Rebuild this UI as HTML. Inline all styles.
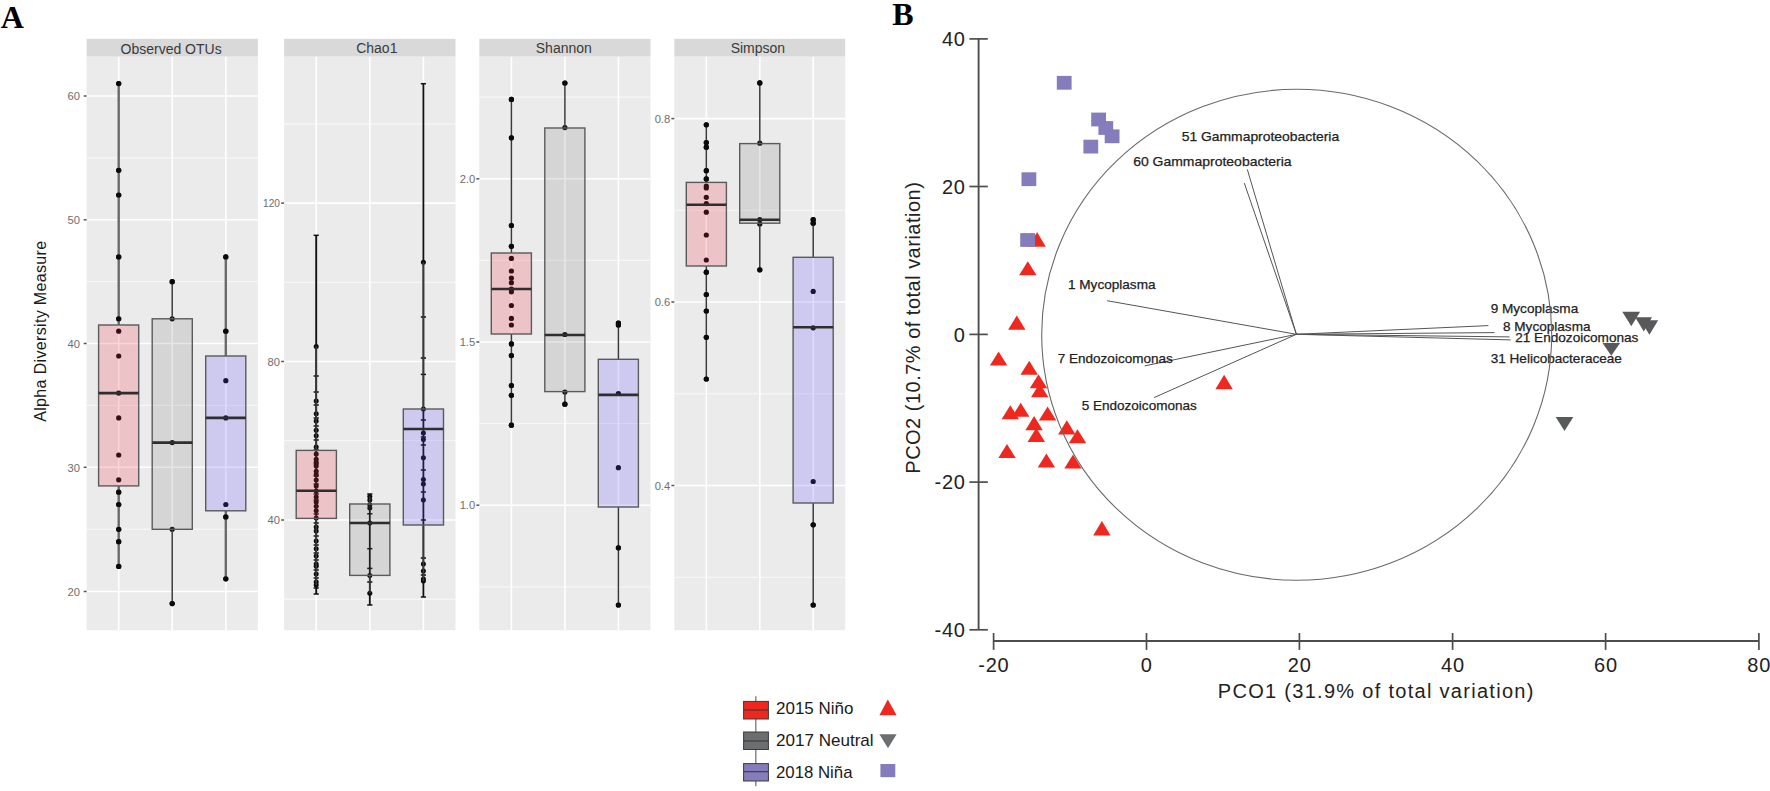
<!DOCTYPE html>
<html><head><meta charset="utf-8"><title>Figure</title>
<style>
html,body{margin:0;padding:0;background:#fff;}
svg{display:block}
text{font-family:"Liberation Sans",sans-serif;}
.ser{font-family:"Liberation Serif",serif;font-weight:bold;}
.tk{font-size:11.2px;fill:#6e6e6e;}
.st{font-size:14px;fill:#3a3a3a;}
.vl{font-size:13px;fill:#222;stroke:#222;stroke-width:0.25px;}
.ax{font-size:20px;fill:#222;}
.lg{font-size:17px;fill:#1a1a1a;}
</style></head><body>
<svg width="1770" height="791" viewBox="0 0 1770 791">
<rect width="1770" height="791" fill="#fff"/>

<text class="ser" x="0.8" y="28.2" font-size="32">A</text>
<text class="ser" x="892.3" y="25.2" font-size="32">B</text>
<rect x="86.6" y="38.8" width="171.3" height="17.9" fill="#d9d9d9"/>
<rect x="86.6" y="56.7" width="171.3" height="573.5" fill="#ebebeb"/>
<text class="st" x="171.1" y="53.7" text-anchor="middle">Observed OTUs</text>
<line x1="86.6" x2="257.9" y1="157.9" y2="157.9" stroke="#f9f9f9" stroke-width="1"/>
<line x1="86.6" x2="257.9" y1="281.6" y2="281.6" stroke="#f9f9f9" stroke-width="1"/>
<line x1="86.6" x2="257.9" y1="405.4" y2="405.4" stroke="#f9f9f9" stroke-width="1"/>
<line x1="86.6" x2="257.9" y1="529.2" y2="529.2" stroke="#f9f9f9" stroke-width="1"/>
<line x1="86.6" x2="257.9" y1="96" y2="96" stroke="#fff" stroke-width="1.6"/>
<line x1="83.69999999999999" x2="86.6" y1="96" y2="96" stroke="#555" stroke-width="1.5"/>
<text class="tk" x="80.0" y="100.2" text-anchor="end">60</text>
<line x1="86.6" x2="257.9" y1="219.8" y2="219.8" stroke="#fff" stroke-width="1.6"/>
<line x1="83.69999999999999" x2="86.6" y1="219.8" y2="219.8" stroke="#555" stroke-width="1.5"/>
<text class="tk" x="80.0" y="224.0" text-anchor="end">50</text>
<line x1="86.6" x2="257.9" y1="343.5" y2="343.5" stroke="#fff" stroke-width="1.6"/>
<line x1="83.69999999999999" x2="86.6" y1="343.5" y2="343.5" stroke="#555" stroke-width="1.5"/>
<text class="tk" x="80.0" y="347.7" text-anchor="end">40</text>
<line x1="86.6" x2="257.9" y1="467.3" y2="467.3" stroke="#fff" stroke-width="1.6"/>
<line x1="83.69999999999999" x2="86.6" y1="467.3" y2="467.3" stroke="#555" stroke-width="1.5"/>
<text class="tk" x="80.0" y="471.5" text-anchor="end">30</text>
<line x1="86.6" x2="257.9" y1="591.5" y2="591.5" stroke="#fff" stroke-width="1.6"/>
<line x1="83.69999999999999" x2="86.6" y1="591.5" y2="591.5" stroke="#555" stroke-width="1.5"/>
<text class="tk" x="80.0" y="595.7" text-anchor="end">20</text>
<line x1="118.7" x2="118.7" y1="56.7" y2="630.2" stroke="#fff" stroke-width="1.6"/>
<line x1="172.2" x2="172.2" y1="56.7" y2="630.2" stroke="#fff" stroke-width="1.6"/>
<line x1="225.8" x2="225.8" y1="56.7" y2="630.2" stroke="#fff" stroke-width="1.6"/>
<circle cx="118.7" cy="83.6" r="2.6" fill="#0a0a0a"/>
<circle cx="118.7" cy="170.3" r="2.6" fill="#0a0a0a"/>
<circle cx="118.7" cy="195.0" r="2.6" fill="#0a0a0a"/>
<circle cx="118.7" cy="256.9" r="2.6" fill="#0a0a0a"/>
<circle cx="118.7" cy="318.8" r="2.6" fill="#0a0a0a"/>
<circle cx="118.7" cy="331.2" r="2.6" fill="#0a0a0a"/>
<circle cx="118.7" cy="356.0" r="2.6" fill="#0a0a0a"/>
<circle cx="118.7" cy="393.1" r="2.6" fill="#0a0a0a"/>
<circle cx="118.7" cy="417.9" r="2.6" fill="#0a0a0a"/>
<circle cx="118.7" cy="455.0" r="2.6" fill="#0a0a0a"/>
<circle cx="118.7" cy="479.8" r="2.6" fill="#0a0a0a"/>
<circle cx="118.7" cy="492.2" r="2.6" fill="#0a0a0a"/>
<circle cx="118.7" cy="504.5" r="2.6" fill="#0a0a0a"/>
<circle cx="118.7" cy="529.3" r="2.6" fill="#0a0a0a"/>
<circle cx="118.7" cy="541.7" r="2.6" fill="#0a0a0a"/>
<circle cx="118.7" cy="566.4" r="2.6" fill="#0a0a0a"/>
<line x1="118.7" x2="118.7" y1="83.6" y2="325.0" stroke="#6a6a6a" stroke-width="2.4"/>
<line x1="118.7" x2="118.7" y1="486.0" y2="566.4" stroke="#6a6a6a" stroke-width="2.4"/>
<rect x="98.6" y="325.0" width="40.1" height="160.9" fill="rgba(240,40,60,0.2)" stroke="#5a5a5a" stroke-width="1.4"/>
<line x1="98.6" x2="138.8" y1="393.1" y2="393.1" stroke="#2e2e2e" stroke-width="2.6"/>
<circle cx="118.7" cy="83.6" r="2.6" fill="#0a0a0a"/>
<circle cx="118.7" cy="170.3" r="2.6" fill="#0a0a0a"/>
<circle cx="118.7" cy="195.0" r="2.6" fill="#0a0a0a"/>
<circle cx="118.7" cy="256.9" r="2.6" fill="#0a0a0a"/>
<circle cx="118.7" cy="318.8" r="2.6" fill="#0a0a0a"/>
<circle cx="118.7" cy="492.2" r="2.6" fill="#0a0a0a"/>
<circle cx="118.7" cy="504.5" r="2.6" fill="#0a0a0a"/>
<circle cx="118.7" cy="529.3" r="2.6" fill="#0a0a0a"/>
<circle cx="118.7" cy="541.7" r="2.6" fill="#0a0a0a"/>
<circle cx="118.7" cy="566.4" r="2.6" fill="#0a0a0a"/>
<circle cx="172.2" cy="281.7" r="2.6" fill="#0a0a0a"/>
<circle cx="172.2" cy="318.8" r="2.6" fill="#0a0a0a"/>
<circle cx="172.2" cy="442.6" r="2.6" fill="#0a0a0a"/>
<circle cx="172.2" cy="529.3" r="2.6" fill="#0a0a0a"/>
<circle cx="172.2" cy="603.6" r="2.6" fill="#0a0a0a"/>
<line x1="172.2" x2="172.2" y1="281.7" y2="318.8" stroke="#3a3a3a" stroke-width="1.5"/>
<line x1="172.2" x2="172.2" y1="529.3" y2="603.6" stroke="#3a3a3a" stroke-width="1.5"/>
<rect x="152.2" y="318.8" width="40.1" height="210.5" fill="rgba(100,100,100,0.16)" stroke="#5a5a5a" stroke-width="1.4"/>
<line x1="152.2" x2="192.3" y1="442.6" y2="442.6" stroke="#2e2e2e" stroke-width="2.6"/>
<circle cx="172.2" cy="281.7" r="2.6" fill="#0a0a0a"/>
<circle cx="172.2" cy="603.6" r="2.6" fill="#0a0a0a"/>
<circle cx="225.8" cy="256.9" r="2.6" fill="#0a0a0a"/>
<circle cx="225.8" cy="331.2" r="2.6" fill="#0a0a0a"/>
<circle cx="225.8" cy="380.7" r="2.6" fill="#0a0a0a"/>
<circle cx="225.8" cy="417.9" r="2.6" fill="#0a0a0a"/>
<circle cx="225.8" cy="504.5" r="2.6" fill="#0a0a0a"/>
<circle cx="225.8" cy="516.9" r="2.6" fill="#0a0a0a"/>
<circle cx="225.8" cy="578.8" r="2.6" fill="#0a0a0a"/>
<line x1="225.8" x2="225.8" y1="256.9" y2="356.0" stroke="#6a6a6a" stroke-width="2.4"/>
<line x1="225.8" x2="225.8" y1="510.7" y2="578.8" stroke="#6a6a6a" stroke-width="2.4"/>
<rect x="205.7" y="356.0" width="40.1" height="154.8" fill="rgba(90,70,255,0.2)" stroke="#5a5a5a" stroke-width="1.4"/>
<line x1="205.7" x2="245.9" y1="417.9" y2="417.9" stroke="#2e2e2e" stroke-width="2.6"/>
<circle cx="225.8" cy="256.9" r="2.6" fill="#0a0a0a"/>
<circle cx="225.8" cy="331.2" r="2.6" fill="#0a0a0a"/>
<circle cx="225.8" cy="516.9" r="2.6" fill="#0a0a0a"/>
<circle cx="225.8" cy="578.8" r="2.6" fill="#0a0a0a"/>
<rect x="284.1" y="38.8" width="171.4" height="17.9" fill="#d9d9d9"/>
<rect x="284.1" y="56.7" width="171.4" height="573.5" fill="#ebebeb"/>
<text class="st" x="376.8" y="52.6" text-anchor="middle">Chao1</text>
<line x1="284.1" x2="455.5" y1="123.9" y2="123.9" stroke="#f9f9f9" stroke-width="1"/>
<line x1="284.1" x2="455.5" y1="282.3" y2="282.3" stroke="#f9f9f9" stroke-width="1"/>
<line x1="284.1" x2="455.5" y1="440.7" y2="440.7" stroke="#f9f9f9" stroke-width="1"/>
<line x1="284.1" x2="455.5" y1="599.2" y2="599.2" stroke="#f9f9f9" stroke-width="1"/>
<line x1="284.1" x2="455.5" y1="203.1" y2="203.1" stroke="#fff" stroke-width="1.6"/>
<line x1="281.20000000000005" x2="284.1" y1="203.1" y2="203.1" stroke="#555" stroke-width="1.5"/>
<text class="tk" x="280.0" y="207.29999999999998" text-anchor="end" textLength="17" lengthAdjust="spacingAndGlyphs">120</text>
<line x1="284.1" x2="455.5" y1="361.5" y2="361.5" stroke="#fff" stroke-width="1.6"/>
<line x1="281.20000000000005" x2="284.1" y1="361.5" y2="361.5" stroke="#555" stroke-width="1.5"/>
<text class="tk" x="280.0" y="365.7" text-anchor="end">80</text>
<line x1="284.1" x2="455.5" y1="520" y2="520" stroke="#fff" stroke-width="1.6"/>
<line x1="281.20000000000005" x2="284.1" y1="520" y2="520" stroke="#555" stroke-width="1.5"/>
<text class="tk" x="280.0" y="524.2" text-anchor="end">40</text>
<line x1="316.2" x2="316.2" y1="56.7" y2="630.2" stroke="#fff" stroke-width="1.6"/>
<line x1="369.8" x2="369.8" y1="56.7" y2="630.2" stroke="#fff" stroke-width="1.6"/>
<line x1="423.4" x2="423.4" y1="56.7" y2="630.2" stroke="#fff" stroke-width="1.6"/>
<circle cx="316.2" cy="346.6" r="2.5" fill="#0a0a0a"/>
<circle cx="316.2" cy="401.0" r="2.5" fill="#0a0a0a"/>
<circle cx="316.2" cy="413.7" r="2.5" fill="#0a0a0a"/>
<circle cx="316.2" cy="421.0" r="2.5" fill="#0a0a0a"/>
<circle cx="316.2" cy="430.3" r="2.5" fill="#0a0a0a"/>
<circle cx="316.2" cy="435.8" r="2.5" fill="#0a0a0a"/>
<circle cx="316.2" cy="447.0" r="2.5" fill="#0a0a0a"/>
<circle cx="316.2" cy="454.0" r="2.5" fill="#0a0a0a"/>
<circle cx="316.2" cy="459.2" r="2.5" fill="#0a0a0a"/>
<circle cx="316.2" cy="462.2" r="2.5" fill="#0a0a0a"/>
<circle cx="316.2" cy="466.0" r="2.5" fill="#0a0a0a"/>
<circle cx="316.2" cy="471.3" r="2.5" fill="#0a0a0a"/>
<circle cx="316.2" cy="474.4" r="2.5" fill="#0a0a0a"/>
<circle cx="316.2" cy="480.0" r="2.5" fill="#0a0a0a"/>
<circle cx="316.2" cy="486.0" r="2.5" fill="#0a0a0a"/>
<circle cx="316.2" cy="491.0" r="2.5" fill="#0a0a0a"/>
<circle cx="316.2" cy="497.1" r="2.5" fill="#0a0a0a"/>
<circle cx="316.2" cy="502.0" r="2.5" fill="#0a0a0a"/>
<circle cx="316.2" cy="506.2" r="2.5" fill="#0a0a0a"/>
<circle cx="316.2" cy="510.8" r="2.5" fill="#0a0a0a"/>
<circle cx="316.2" cy="518.0" r="2.5" fill="#0a0a0a"/>
<circle cx="316.2" cy="526.9" r="2.5" fill="#0a0a0a"/>
<circle cx="316.2" cy="531.1" r="2.5" fill="#0a0a0a"/>
<circle cx="316.2" cy="541.1" r="2.5" fill="#0a0a0a"/>
<circle cx="316.2" cy="548.7" r="2.5" fill="#0a0a0a"/>
<circle cx="316.2" cy="556.0" r="2.5" fill="#0a0a0a"/>
<circle cx="316.2" cy="563.9" r="2.5" fill="#0a0a0a"/>
<circle cx="316.2" cy="566.3" r="2.5" fill="#0a0a0a"/>
<circle cx="316.2" cy="574.0" r="2.5" fill="#0a0a0a"/>
<circle cx="316.2" cy="582.1" r="2.5" fill="#0a0a0a"/>
<circle cx="316.2" cy="585.1" r="2.5" fill="#0a0a0a"/>
<line x1="316.2" x2="316.2" y1="235.3" y2="594" stroke="#111" stroke-width="1.9"/>
<line x1="313.6" x2="318.8" y1="235.3" y2="235.3" stroke="#111" stroke-width="1.5"/>
<line x1="313.6" x2="318.8" y1="376" y2="376" stroke="#111" stroke-width="1.5"/>
<line x1="313.6" x2="318.8" y1="392" y2="392" stroke="#111" stroke-width="1.5"/>
<line x1="313.6" x2="318.8" y1="405" y2="405" stroke="#111" stroke-width="1.5"/>
<line x1="313.6" x2="318.8" y1="418" y2="418" stroke="#111" stroke-width="1.5"/>
<line x1="313.6" x2="318.8" y1="426" y2="426" stroke="#111" stroke-width="1.5"/>
<line x1="313.6" x2="318.8" y1="440" y2="440" stroke="#111" stroke-width="1.5"/>
<line x1="313.6" x2="318.8" y1="450" y2="450" stroke="#111" stroke-width="1.5"/>
<line x1="313.6" x2="318.8" y1="464" y2="464" stroke="#111" stroke-width="1.5"/>
<line x1="313.6" x2="318.8" y1="476" y2="476" stroke="#111" stroke-width="1.5"/>
<line x1="313.6" x2="318.8" y1="484" y2="484" stroke="#111" stroke-width="1.5"/>
<line x1="313.6" x2="318.8" y1="494" y2="494" stroke="#111" stroke-width="1.5"/>
<line x1="313.6" x2="318.8" y1="500" y2="500" stroke="#111" stroke-width="1.5"/>
<line x1="313.6" x2="318.8" y1="514" y2="514" stroke="#111" stroke-width="1.5"/>
<line x1="313.6" x2="318.8" y1="523" y2="523" stroke="#111" stroke-width="1.5"/>
<line x1="313.6" x2="318.8" y1="536" y2="536" stroke="#111" stroke-width="1.5"/>
<line x1="313.6" x2="318.8" y1="545" y2="545" stroke="#111" stroke-width="1.5"/>
<line x1="313.6" x2="318.8" y1="553" y2="553" stroke="#111" stroke-width="1.5"/>
<line x1="313.6" x2="318.8" y1="560" y2="560" stroke="#111" stroke-width="1.5"/>
<line x1="313.6" x2="318.8" y1="570" y2="570" stroke="#111" stroke-width="1.5"/>
<line x1="313.6" x2="318.8" y1="578" y2="578" stroke="#111" stroke-width="1.5"/>
<line x1="313.6" x2="318.8" y1="588" y2="588" stroke="#111" stroke-width="1.5"/>
<line x1="313.6" x2="318.8" y1="594" y2="594" stroke="#111" stroke-width="1.5"/>
<line x1="316.2" x2="316.2" y1="346.6" y2="450.4" stroke="#3a3a3a" stroke-width="1.5"/>
<line x1="316.2" x2="316.2" y1="518.4" y2="585.1" stroke="#3a3a3a" stroke-width="1.5"/>
<rect x="296.2" y="450.4" width="40.2" height="68.0" fill="rgba(240,40,60,0.2)" stroke="#5a5a5a" stroke-width="1.4"/>
<line x1="296.2" x2="336.3" y1="490.7" y2="490.7" stroke="#2e2e2e" stroke-width="2.6"/>
<circle cx="369.8" cy="496.5" r="2.5" fill="#0a0a0a"/>
<circle cx="369.8" cy="500.0" r="2.5" fill="#0a0a0a"/>
<circle cx="369.8" cy="504.7" r="2.5" fill="#0a0a0a"/>
<circle cx="369.8" cy="508.0" r="2.5" fill="#0a0a0a"/>
<circle cx="369.8" cy="523.0" r="2.5" fill="#0a0a0a"/>
<circle cx="369.8" cy="575.4" r="2.5" fill="#0a0a0a"/>
<circle cx="369.8" cy="593.3" r="2.5" fill="#0a0a0a"/>
<line x1="369.8" x2="369.8" y1="494" y2="605" stroke="#111" stroke-width="1.8"/>
<line x1="367.2" x2="372.4" y1="494" y2="494" stroke="#111" stroke-width="1.5"/>
<line x1="367.2" x2="372.4" y1="513.8" y2="513.8" stroke="#111" stroke-width="1.5"/>
<line x1="367.2" x2="372.4" y1="548.7" y2="548.7" stroke="#111" stroke-width="1.5"/>
<line x1="367.2" x2="372.4" y1="568.4" y2="568.4" stroke="#111" stroke-width="1.5"/>
<line x1="367.2" x2="372.4" y1="582" y2="582" stroke="#111" stroke-width="1.5"/>
<line x1="367.2" x2="372.4" y1="605" y2="605" stroke="#111" stroke-width="1.5"/>
<line x1="369.8" x2="369.8" y1="496.5" y2="504.0" stroke="#3a3a3a" stroke-width="1.5"/>
<line x1="369.8" x2="369.8" y1="575.4" y2="593.3" stroke="#3a3a3a" stroke-width="1.5"/>
<rect x="349.7" y="504.0" width="40.2" height="71.4" fill="rgba(100,100,100,0.16)" stroke="#5a5a5a" stroke-width="1.4"/>
<line x1="349.7" x2="389.9" y1="523.0" y2="523.0" stroke="#2e2e2e" stroke-width="2.6"/>
<circle cx="423.4" cy="262.3" r="2.5" fill="#0a0a0a"/>
<circle cx="423.4" cy="409.0" r="2.5" fill="#0a0a0a"/>
<circle cx="423.4" cy="433.0" r="2.5" fill="#0a0a0a"/>
<circle cx="423.4" cy="439.5" r="2.5" fill="#0a0a0a"/>
<circle cx="423.4" cy="457.7" r="2.5" fill="#0a0a0a"/>
<circle cx="423.4" cy="479.5" r="2.5" fill="#0a0a0a"/>
<circle cx="423.4" cy="484.0" r="2.5" fill="#0a0a0a"/>
<circle cx="423.4" cy="500.0" r="2.5" fill="#0a0a0a"/>
<circle cx="423.4" cy="563.9" r="2.5" fill="#0a0a0a"/>
<circle cx="423.4" cy="570.9" r="2.5" fill="#0a0a0a"/>
<circle cx="423.4" cy="579.0" r="2.5" fill="#0a0a0a"/>
<circle cx="423.4" cy="581.0" r="2.5" fill="#0a0a0a"/>
<line x1="423.4" x2="423.4" y1="83.7" y2="597" stroke="#111" stroke-width="1.8"/>
<line x1="420.8" x2="426.0" y1="83.7" y2="83.7" stroke="#111" stroke-width="1.5"/>
<line x1="420.8" x2="426.0" y1="317" y2="317" stroke="#111" stroke-width="1.5"/>
<line x1="420.8" x2="426.0" y1="358" y2="358" stroke="#111" stroke-width="1.5"/>
<line x1="420.8" x2="426.0" y1="374.4" y2="374.4" stroke="#111" stroke-width="1.5"/>
<line x1="420.8" x2="426.0" y1="420" y2="420" stroke="#111" stroke-width="1.5"/>
<line x1="420.8" x2="426.0" y1="437" y2="437" stroke="#111" stroke-width="1.5"/>
<line x1="420.8" x2="426.0" y1="445" y2="445" stroke="#111" stroke-width="1.5"/>
<line x1="420.8" x2="426.0" y1="470" y2="470" stroke="#111" stroke-width="1.5"/>
<line x1="420.8" x2="426.0" y1="492" y2="492" stroke="#111" stroke-width="1.5"/>
<line x1="420.8" x2="426.0" y1="520" y2="520" stroke="#111" stroke-width="1.5"/>
<line x1="420.8" x2="426.0" y1="558" y2="558" stroke="#111" stroke-width="1.5"/>
<line x1="420.8" x2="426.0" y1="575" y2="575" stroke="#111" stroke-width="1.5"/>
<line x1="420.8" x2="426.0" y1="597" y2="597" stroke="#111" stroke-width="1.5"/>
<line x1="423.4" x2="423.4" y1="262.3" y2="409.0" stroke="#3a3a3a" stroke-width="1.5"/>
<line x1="423.4" x2="423.4" y1="525.0" y2="581.0" stroke="#3a3a3a" stroke-width="1.5"/>
<rect x="403.3" y="409.0" width="40.2" height="116.0" fill="rgba(90,70,255,0.2)" stroke="#5a5a5a" stroke-width="1.4"/>
<line x1="403.3" x2="443.4" y1="429.0" y2="429.0" stroke="#2e2e2e" stroke-width="2.6"/>
<rect x="479.3" y="38.8" width="171.2" height="17.9" fill="#d9d9d9"/>
<rect x="479.3" y="56.7" width="171.2" height="573.5" fill="#ebebeb"/>
<text class="st" x="563.8" y="52.6" text-anchor="middle">Shannon</text>
<line x1="479.3" x2="650.5" y1="97.1" y2="97.1" stroke="#f9f9f9" stroke-width="1"/>
<line x1="479.3" x2="650.5" y1="260.4" y2="260.4" stroke="#f9f9f9" stroke-width="1"/>
<line x1="479.3" x2="650.5" y1="423.6" y2="423.6" stroke="#f9f9f9" stroke-width="1"/>
<line x1="479.3" x2="650.5" y1="586.9" y2="586.9" stroke="#f9f9f9" stroke-width="1"/>
<line x1="479.3" x2="650.5" y1="178.8" y2="178.8" stroke="#fff" stroke-width="1.6"/>
<line x1="476.40000000000003" x2="479.3" y1="178.8" y2="178.8" stroke="#555" stroke-width="1.5"/>
<text class="tk" x="475.2" y="183.0" text-anchor="end">2.0</text>
<line x1="479.3" x2="650.5" y1="342" y2="342" stroke="#fff" stroke-width="1.6"/>
<line x1="476.40000000000003" x2="479.3" y1="342" y2="342" stroke="#555" stroke-width="1.5"/>
<text class="tk" x="475.2" y="346.2" text-anchor="end">1.5</text>
<line x1="479.3" x2="650.5" y1="505.2" y2="505.2" stroke="#fff" stroke-width="1.6"/>
<line x1="476.40000000000003" x2="479.3" y1="505.2" y2="505.2" stroke="#555" stroke-width="1.5"/>
<text class="tk" x="475.2" y="509.4" text-anchor="end">1.0</text>
<line x1="511.4" x2="511.4" y1="56.7" y2="630.2" stroke="#fff" stroke-width="1.6"/>
<line x1="564.9" x2="564.9" y1="56.7" y2="630.2" stroke="#fff" stroke-width="1.6"/>
<line x1="618.4" x2="618.4" y1="56.7" y2="630.2" stroke="#fff" stroke-width="1.6"/>
<circle cx="511.4" cy="99.4" r="2.6" fill="#0a0a0a"/>
<circle cx="511.4" cy="137.8" r="2.6" fill="#0a0a0a"/>
<circle cx="511.4" cy="225.5" r="2.6" fill="#0a0a0a"/>
<circle cx="511.4" cy="246.3" r="2.6" fill="#0a0a0a"/>
<circle cx="511.4" cy="258.4" r="2.6" fill="#0a0a0a"/>
<circle cx="511.4" cy="271.0" r="2.6" fill="#0a0a0a"/>
<circle cx="511.4" cy="278.0" r="2.6" fill="#0a0a0a"/>
<circle cx="511.4" cy="282.7" r="2.6" fill="#0a0a0a"/>
<circle cx="511.4" cy="289.0" r="2.6" fill="#0a0a0a"/>
<circle cx="511.4" cy="291.8" r="2.6" fill="#0a0a0a"/>
<circle cx="511.4" cy="305.5" r="2.6" fill="#0a0a0a"/>
<circle cx="511.4" cy="318.4" r="2.6" fill="#0a0a0a"/>
<circle cx="511.4" cy="325.0" r="2.6" fill="#0a0a0a"/>
<circle cx="511.4" cy="343.9" r="2.6" fill="#0a0a0a"/>
<circle cx="511.4" cy="355.6" r="2.6" fill="#0a0a0a"/>
<circle cx="511.4" cy="385.6" r="2.6" fill="#0a0a0a"/>
<circle cx="511.4" cy="395.3" r="2.6" fill="#0a0a0a"/>
<circle cx="511.4" cy="425.2" r="2.6" fill="#0a0a0a"/>
<line x1="511.4" x2="511.4" y1="99.4" y2="253.0" stroke="#3a3a3a" stroke-width="1.5"/>
<line x1="511.4" x2="511.4" y1="334.0" y2="425.2" stroke="#3a3a3a" stroke-width="1.5"/>
<rect x="491.3" y="253.0" width="40.1" height="81.0" fill="rgba(240,40,60,0.2)" stroke="#5a5a5a" stroke-width="1.4"/>
<line x1="491.3" x2="531.5" y1="289.0" y2="289.0" stroke="#2e2e2e" stroke-width="2.6"/>
<circle cx="511.4" cy="99.4" r="2.6" fill="#0a0a0a"/>
<circle cx="511.4" cy="137.8" r="2.6" fill="#0a0a0a"/>
<circle cx="511.4" cy="225.5" r="2.6" fill="#0a0a0a"/>
<circle cx="511.4" cy="246.3" r="2.6" fill="#0a0a0a"/>
<circle cx="511.4" cy="343.9" r="2.6" fill="#0a0a0a"/>
<circle cx="511.4" cy="355.6" r="2.6" fill="#0a0a0a"/>
<circle cx="511.4" cy="385.6" r="2.6" fill="#0a0a0a"/>
<circle cx="511.4" cy="395.3" r="2.6" fill="#0a0a0a"/>
<circle cx="511.4" cy="425.2" r="2.6" fill="#0a0a0a"/>
<circle cx="564.9" cy="83.0" r="2.6" fill="#0a0a0a"/>
<circle cx="564.9" cy="127.6" r="2.6" fill="#0a0a0a"/>
<circle cx="564.9" cy="334.5" r="2.6" fill="#0a0a0a"/>
<circle cx="564.9" cy="392.0" r="2.6" fill="#0a0a0a"/>
<circle cx="564.9" cy="404.2" r="2.6" fill="#0a0a0a"/>
<line x1="564.9" x2="564.9" y1="83.0" y2="128.0" stroke="#3a3a3a" stroke-width="1.5"/>
<line x1="564.9" x2="564.9" y1="391.6" y2="404.2" stroke="#3a3a3a" stroke-width="1.5"/>
<rect x="544.8" y="128.0" width="40.1" height="263.6" fill="rgba(100,100,100,0.16)" stroke="#5a5a5a" stroke-width="1.4"/>
<line x1="544.8" x2="585.0" y1="335.0" y2="335.0" stroke="#2e2e2e" stroke-width="2.6"/>
<circle cx="564.9" cy="83.0" r="2.6" fill="#0a0a0a"/>
<circle cx="564.9" cy="404.2" r="2.6" fill="#0a0a0a"/>
<circle cx="618.4" cy="323.0" r="2.6" fill="#0a0a0a"/>
<circle cx="618.4" cy="325.0" r="2.6" fill="#0a0a0a"/>
<circle cx="618.4" cy="393.5" r="2.6" fill="#0a0a0a"/>
<circle cx="618.4" cy="467.7" r="2.6" fill="#0a0a0a"/>
<circle cx="618.4" cy="547.8" r="2.6" fill="#0a0a0a"/>
<circle cx="618.4" cy="605.0" r="2.6" fill="#0a0a0a"/>
<line x1="618.4" x2="618.4" y1="324.0" y2="359.3" stroke="#3a3a3a" stroke-width="1.5"/>
<line x1="618.4" x2="618.4" y1="507.0" y2="605.0" stroke="#3a3a3a" stroke-width="1.5"/>
<rect x="598.3" y="359.3" width="40.1" height="147.7" fill="rgba(90,70,255,0.2)" stroke="#5a5a5a" stroke-width="1.4"/>
<line x1="598.3" x2="638.5" y1="394.9" y2="394.9" stroke="#2e2e2e" stroke-width="2.6"/>
<circle cx="618.4" cy="323.0" r="2.6" fill="#0a0a0a"/>
<circle cx="618.4" cy="325.0" r="2.6" fill="#0a0a0a"/>
<circle cx="618.4" cy="547.8" r="2.6" fill="#0a0a0a"/>
<circle cx="618.4" cy="605.0" r="2.6" fill="#0a0a0a"/>
<rect x="674.3" y="38.8" width="170.9" height="17.9" fill="#d9d9d9"/>
<rect x="674.3" y="56.7" width="170.9" height="573.5" fill="#ebebeb"/>
<text class="st" x="757.9" y="52.6" text-anchor="middle">Simpson</text>
<line x1="674.3" x2="845.2" y1="210.3" y2="210.3" stroke="#f9f9f9" stroke-width="1"/>
<line x1="674.3" x2="845.2" y1="393.8" y2="393.8" stroke="#f9f9f9" stroke-width="1"/>
<line x1="674.3" x2="845.2" y1="577.2" y2="577.2" stroke="#f9f9f9" stroke-width="1"/>
<line x1="674.3" x2="845.2" y1="118.6" y2="118.6" stroke="#fff" stroke-width="1.6"/>
<line x1="671.4" x2="674.3" y1="118.6" y2="118.6" stroke="#555" stroke-width="1.5"/>
<text class="tk" x="670.2" y="122.8" text-anchor="end">0.8</text>
<line x1="674.3" x2="845.2" y1="302" y2="302" stroke="#fff" stroke-width="1.6"/>
<line x1="671.4" x2="674.3" y1="302" y2="302" stroke="#555" stroke-width="1.5"/>
<text class="tk" x="670.2" y="306.2" text-anchor="end">0.6</text>
<line x1="674.3" x2="845.2" y1="485.5" y2="485.5" stroke="#fff" stroke-width="1.6"/>
<line x1="671.4" x2="674.3" y1="485.5" y2="485.5" stroke="#555" stroke-width="1.5"/>
<text class="tk" x="670.2" y="489.7" text-anchor="end">0.4</text>
<line x1="706.3" x2="706.3" y1="56.7" y2="630.2" stroke="#fff" stroke-width="1.6"/>
<line x1="759.8" x2="759.8" y1="56.7" y2="630.2" stroke="#fff" stroke-width="1.6"/>
<line x1="813.2" x2="813.2" y1="56.7" y2="630.2" stroke="#fff" stroke-width="1.6"/>
<circle cx="706.3" cy="124.8" r="2.6" fill="#0a0a0a"/>
<circle cx="706.3" cy="142.5" r="2.6" fill="#0a0a0a"/>
<circle cx="706.3" cy="147.2" r="2.6" fill="#0a0a0a"/>
<circle cx="706.3" cy="170.7" r="2.6" fill="#0a0a0a"/>
<circle cx="706.3" cy="178.9" r="2.6" fill="#0a0a0a"/>
<circle cx="706.3" cy="186.0" r="2.6" fill="#0a0a0a"/>
<circle cx="706.3" cy="188.0" r="2.6" fill="#0a0a0a"/>
<circle cx="706.3" cy="197.3" r="2.6" fill="#0a0a0a"/>
<circle cx="706.3" cy="203.6" r="2.6" fill="#0a0a0a"/>
<circle cx="706.3" cy="212.2" r="2.6" fill="#0a0a0a"/>
<circle cx="706.3" cy="235.0" r="2.6" fill="#0a0a0a"/>
<circle cx="706.3" cy="260.0" r="2.6" fill="#0a0a0a"/>
<circle cx="706.3" cy="272.2" r="2.6" fill="#0a0a0a"/>
<circle cx="706.3" cy="294.5" r="2.6" fill="#0a0a0a"/>
<circle cx="706.3" cy="311.0" r="2.6" fill="#0a0a0a"/>
<circle cx="706.3" cy="337.3" r="2.6" fill="#0a0a0a"/>
<circle cx="706.3" cy="379.0" r="2.6" fill="#0a0a0a"/>
<line x1="706.3" x2="706.3" y1="124.8" y2="182.4" stroke="#3a3a3a" stroke-width="1.5"/>
<line x1="706.3" x2="706.3" y1="266.0" y2="379.0" stroke="#3a3a3a" stroke-width="1.5"/>
<rect x="686.3" y="182.4" width="40.1" height="83.6" fill="rgba(240,40,60,0.2)" stroke="#5a5a5a" stroke-width="1.4"/>
<line x1="686.3" x2="726.4" y1="204.8" y2="204.8" stroke="#2e2e2e" stroke-width="2.6"/>
<circle cx="706.3" cy="124.8" r="2.6" fill="#0a0a0a"/>
<circle cx="706.3" cy="142.5" r="2.6" fill="#0a0a0a"/>
<circle cx="706.3" cy="147.2" r="2.6" fill="#0a0a0a"/>
<circle cx="706.3" cy="170.7" r="2.6" fill="#0a0a0a"/>
<circle cx="706.3" cy="178.9" r="2.6" fill="#0a0a0a"/>
<circle cx="706.3" cy="272.2" r="2.6" fill="#0a0a0a"/>
<circle cx="706.3" cy="294.5" r="2.6" fill="#0a0a0a"/>
<circle cx="706.3" cy="311.0" r="2.6" fill="#0a0a0a"/>
<circle cx="706.3" cy="337.3" r="2.6" fill="#0a0a0a"/>
<circle cx="706.3" cy="379.0" r="2.6" fill="#0a0a0a"/>
<circle cx="759.8" cy="82.9" r="2.6" fill="#0a0a0a"/>
<circle cx="759.8" cy="143.2" r="2.6" fill="#0a0a0a"/>
<circle cx="759.8" cy="219.7" r="2.6" fill="#0a0a0a"/>
<circle cx="759.8" cy="224.0" r="2.6" fill="#0a0a0a"/>
<circle cx="759.8" cy="269.8" r="2.6" fill="#0a0a0a"/>
<line x1="759.8" x2="759.8" y1="82.9" y2="143.6" stroke="#3a3a3a" stroke-width="1.5"/>
<line x1="759.8" x2="759.8" y1="223.2" y2="269.8" stroke="#3a3a3a" stroke-width="1.5"/>
<rect x="739.7" y="143.6" width="40.1" height="79.6" fill="rgba(100,100,100,0.16)" stroke="#5a5a5a" stroke-width="1.4"/>
<line x1="739.7" x2="779.8" y1="219.7" y2="219.7" stroke="#2e2e2e" stroke-width="2.6"/>
<circle cx="759.8" cy="82.9" r="2.6" fill="#0a0a0a"/>
<circle cx="759.8" cy="269.8" r="2.6" fill="#0a0a0a"/>
<circle cx="813.2" cy="219.7" r="2.6" fill="#0a0a0a"/>
<circle cx="813.2" cy="223.2" r="2.6" fill="#0a0a0a"/>
<circle cx="813.2" cy="291.4" r="2.6" fill="#0a0a0a"/>
<circle cx="813.2" cy="327.8" r="2.6" fill="#0a0a0a"/>
<circle cx="813.2" cy="481.5" r="2.6" fill="#0a0a0a"/>
<circle cx="813.2" cy="524.8" r="2.6" fill="#0a0a0a"/>
<circle cx="813.2" cy="605.0" r="2.6" fill="#0a0a0a"/>
<line x1="813.2" x2="813.2" y1="219.7" y2="257.3" stroke="#3a3a3a" stroke-width="1.5"/>
<line x1="813.2" x2="813.2" y1="503.0" y2="605.0" stroke="#3a3a3a" stroke-width="1.5"/>
<rect x="793.1" y="257.3" width="40.1" height="245.7" fill="rgba(90,70,255,0.2)" stroke="#5a5a5a" stroke-width="1.4"/>
<line x1="793.1" x2="833.2" y1="327.3" y2="327.3" stroke="#2e2e2e" stroke-width="2.6"/>
<circle cx="813.2" cy="219.7" r="2.6" fill="#0a0a0a"/>
<circle cx="813.2" cy="223.2" r="2.6" fill="#0a0a0a"/>
<circle cx="813.2" cy="524.8" r="2.6" fill="#0a0a0a"/>
<circle cx="813.2" cy="605.0" r="2.6" fill="#0a0a0a"/>
<text transform="translate(46,421.8) rotate(-90)" font-size="16" fill="#1a1a1a" textLength="181" lengthAdjust="spacing">Alpha Diversity Measure</text>
<line x1="755.8" x2="755.8" y1="696.3" y2="786.2" stroke="#777" stroke-width="1.3"/>
<rect x="743.6" y="701.4" width="24.8" height="17.6" fill="#ee281e" stroke="#3a3a3a" stroke-width="1"/>
<line x1="743.6" x2="768.4" y1="710" y2="710" stroke="#3a3a3a" stroke-width="1.1"/>
<text class="lg" x="776" y="713.8" textLength="77.4" lengthAdjust="spacingAndGlyphs">2015 Niño</text>
<rect x="743.6" y="732" width="24.8" height="17.5" fill="#6d6e70" stroke="#3a3a3a" stroke-width="1"/>
<line x1="743.6" x2="768.4" y1="741" y2="741" stroke="#3a3a3a" stroke-width="1.1"/>
<text class="lg" x="776" y="746.4" textLength="97.6" lengthAdjust="spacingAndGlyphs">2017 Neutral</text>
<rect x="743.6" y="763.6" width="24.8" height="17.4" fill="#857dbb" stroke="#3a3a3a" stroke-width="1"/>
<line x1="743.6" x2="768.4" y1="771.7" y2="771.7" stroke="#3a3a3a" stroke-width="1.1"/>
<text class="lg" x="776" y="777.6" textLength="76.5" lengthAdjust="spacingAndGlyphs">2018 Niña</text>
<polygon points="887.8,699.5 879.4,715.2 896.6,715.2" fill="#ee281e"/>
<polygon points="879.4,734.2 896.6,734.2 888,748.3" fill="#6d6e70"/>
<rect x="880.4" y="764" width="14.9" height="13.2" fill="#857dbb"/>
<line x1="978.6" x2="978.6" y1="38.9" y2="629.8" stroke="#4d4d4d" stroke-width="1.9"/>
<line x1="969.4" x2="987.8" y1="38.9" y2="38.9" stroke="#4d4d4d" stroke-width="1.7"/>
<text class="ax" x="965.8" y="46.199999999999996" text-anchor="end" font-size="20.6" letter-spacing="0.8">40</text>
<line x1="969.4" x2="987.8" y1="186.5" y2="186.5" stroke="#4d4d4d" stroke-width="1.7"/>
<text class="ax" x="965.8" y="193.8" text-anchor="end" font-size="20.6" letter-spacing="0.8">20</text>
<line x1="969.4" x2="987.8" y1="334.4" y2="334.4" stroke="#4d4d4d" stroke-width="1.7"/>
<text class="ax" x="965.8" y="341.7" text-anchor="end" font-size="20.6" letter-spacing="0.8">0</text>
<line x1="969.4" x2="987.8" y1="482.1" y2="482.1" stroke="#4d4d4d" stroke-width="1.7"/>
<text class="ax" x="965.8" y="489.40000000000003" text-anchor="end" font-size="20.6" letter-spacing="0.8">-20</text>
<line x1="969.4" x2="987.8" y1="629.8" y2="629.8" stroke="#4d4d4d" stroke-width="1.7"/>
<text class="ax" x="965.8" y="637.0999999999999" text-anchor="end" font-size="20.6" letter-spacing="0.8">-40</text>
<line x1="993.6" x2="1759" y1="641" y2="641" stroke="#4d4d4d" stroke-width="1.9"/>
<line x1="993.6" x2="993.6" y1="633" y2="649.9" stroke="#4d4d4d" stroke-width="1.7"/>
<text class="ax" x="993.9" y="672" text-anchor="middle" font-size="20.6" letter-spacing="0.8">-20</text>
<line x1="1146.5" x2="1146.5" y1="633" y2="649.9" stroke="#4d4d4d" stroke-width="1.7"/>
<text class="ax" x="1146.8" y="672" text-anchor="middle" font-size="20.6" letter-spacing="0.8">0</text>
<line x1="1299.4" x2="1299.4" y1="633" y2="649.9" stroke="#4d4d4d" stroke-width="1.7"/>
<text class="ax" x="1299.7" y="672" text-anchor="middle" font-size="20.6" letter-spacing="0.8">20</text>
<line x1="1452.6" x2="1452.6" y1="633" y2="649.9" stroke="#4d4d4d" stroke-width="1.7"/>
<text class="ax" x="1452.8999999999999" y="672" text-anchor="middle" font-size="20.6" letter-spacing="0.8">40</text>
<line x1="1605.6" x2="1605.6" y1="633" y2="649.9" stroke="#4d4d4d" stroke-width="1.7"/>
<text class="ax" x="1605.8999999999999" y="672" text-anchor="middle" font-size="20.6" letter-spacing="0.8">60</text>
<line x1="1758.9" x2="1758.9" y1="633" y2="649.9" stroke="#4d4d4d" stroke-width="1.7"/>
<text class="ax" x="1759.2" y="672" text-anchor="middle" font-size="20.6" letter-spacing="0.8">80</text>
<text class="ax" x="1217.8" y="698.2" font-size="21" textLength="315.6" lengthAdjust="spacing">PCO1 (31.9% of total variation)</text>
<text class="ax" transform="translate(920,473.7) rotate(-90)" textLength="291.5" lengthAdjust="spacing">PCO2 (10.7% of total variation)</text>
<line x1="1296.4" y1="334.3" x2="1247.3" y2="169.4" stroke="#555" stroke-width="1"/>
<line x1="1296.4" y1="334.3" x2="1244.3" y2="183.1" stroke="#555" stroke-width="1"/>
<line x1="1296.4" y1="334.3" x2="1488.4" y2="325.6" stroke="#555" stroke-width="1"/>
<line x1="1296.4" y1="334.3" x2="1494.5" y2="332.6" stroke="#555" stroke-width="1"/>
<line x1="1296.4" y1="334.3" x2="1509.6" y2="336.9" stroke="#555" stroke-width="1"/>
<line x1="1296.4" y1="334.3" x2="1510.6" y2="339.9" stroke="#555" stroke-width="1"/>
<line x1="1296.4" y1="334.3" x2="1107.1" y2="300.7" stroke="#555" stroke-width="1"/>
<line x1="1296.4" y1="334.3" x2="1144.7" y2="365.9" stroke="#555" stroke-width="1"/>
<line x1="1296.4" y1="334.3" x2="1154.1" y2="397.6" stroke="#555" stroke-width="1"/>
<polygon points="1037.1,232.0 1028.4,246.8 1045.8,246.8" fill="#ee281e"/>
<polygon points="1027.8,261.2 1019.1,275.3 1036.5,275.3" fill="#ee281e"/>
<polygon points="1016.8,315.4 1008.1,329.8 1025.5,329.8" fill="#ee281e"/>
<polygon points="998.6,351.4 989.9,365.4 1007.3,365.4" fill="#ee281e"/>
<polygon points="1029.2,360.7 1020.5,374.7 1037.9,374.7" fill="#ee281e"/>
<polygon points="1038.5,374.2 1029.8,388.3 1047.2,388.3" fill="#ee281e"/>
<polygon points="1039.7,383.2 1031.0,397.3 1048.4,397.3" fill="#ee281e"/>
<polygon points="1010.3,405.3 1001.6,419.2 1019.0,419.2" fill="#ee281e"/>
<polygon points="1020.7,402.7 1012.0,416.8 1029.4,416.8" fill="#ee281e"/>
<polygon points="1047.6,406.6 1038.9,420.5 1056.3,420.5" fill="#ee281e"/>
<polygon points="1034.1,416.0 1025.4,430.2 1042.8,430.2" fill="#ee281e"/>
<polygon points="1066.8,420.3 1058.1,434.4 1075.5,434.4" fill="#ee281e"/>
<polygon points="1036.3,427.8 1027.6,441.9 1045.0,441.9" fill="#ee281e"/>
<polygon points="1077.5,429.2 1068.8,443.2 1086.2,443.2" fill="#ee281e"/>
<polygon points="1007.0,443.9 998.3,458.0 1015.7,458.0" fill="#ee281e"/>
<polygon points="1046.4,453.6 1037.7,467.5 1055.1,467.5" fill="#ee281e"/>
<polygon points="1073.0,454.4 1064.3,468.5 1081.7,468.5" fill="#ee281e"/>
<polygon points="1101.9,521.0 1093.2,535.4 1110.6,535.4" fill="#ee281e"/>
<polygon points="1224.1,374.7 1215.4,389.2 1232.8,389.2" fill="#ee281e"/>
<rect x="1056.8" y="75.9" width="14.8" height="13.8" fill="#857dbb"/>
<rect x="1091.2" y="112.6" width="14.8" height="13.8" fill="#857dbb"/>
<rect x="1098.4" y="121.1" width="14.8" height="13.8" fill="#857dbb"/>
<rect x="1104.7" y="129.4" width="14.8" height="13.8" fill="#857dbb"/>
<rect x="1083.4" y="139.7" width="14.8" height="13.8" fill="#857dbb"/>
<rect x="1021.5" y="172.3" width="14.8" height="13.8" fill="#857dbb"/>
<rect x="1020.2" y="233.1" width="14.8" height="13.8" fill="#857dbb"/>
<polygon points="1622.3,311.8 1640.1,311.8 1631.3,326.2" fill="#58595b"/>
<polygon points="1635.2,317.2 1652,317.2 1643.8,331.6" fill="#58595b"/>
<polygon points="1640.6,320.2 1658.2,320.2 1649.4,334.8" fill="#58595b"/>
<polygon points="1602.5,343 1620.1,343 1611.3,355.7" fill="#58595b"/>
<polygon points="1555.7,416.9 1573.3,416.9 1564.5,431.1" fill="#58595b"/>
<text class="vl" x="1181.7" y="141.3" textLength="157.5" lengthAdjust="spacingAndGlyphs">51 Gammaproteobacteria</text>
<text class="vl" x="1133.2" y="165.8" textLength="158.4" lengthAdjust="spacingAndGlyphs">60 Gammaproteobacteria</text>
<text class="vl" x="1068" y="289.2" textLength="87.5" lengthAdjust="spacingAndGlyphs">1 Mycoplasma</text>
<text class="vl" x="1057.8" y="362.9" textLength="114.9" lengthAdjust="spacingAndGlyphs">7 Endozoicomonas</text>
<text class="vl" x="1081.7" y="410" textLength="115.1" lengthAdjust="spacingAndGlyphs">5 Endozoicomonas</text>
<text class="vl" x="1490.7" y="312.7" textLength="87.5" lengthAdjust="spacingAndGlyphs">9 Mycoplasma</text>
<text class="vl" x="1503" y="331" textLength="87.5" lengthAdjust="spacingAndGlyphs">8 Mycoplasma</text>
<text class="vl" x="1515.2" y="341.9" textLength="123.2" lengthAdjust="spacingAndGlyphs">21 Endozoicomonas</text>
<text class="vl" x="1490.7" y="362.8" textLength="131.2" lengthAdjust="spacingAndGlyphs">31 Helicobacteraceae</text>
<ellipse cx="1296.7" cy="334.8" rx="255" ry="245.5" fill="none" stroke="#6a6a6a" stroke-width="1.1"/>
</svg></body></html>
